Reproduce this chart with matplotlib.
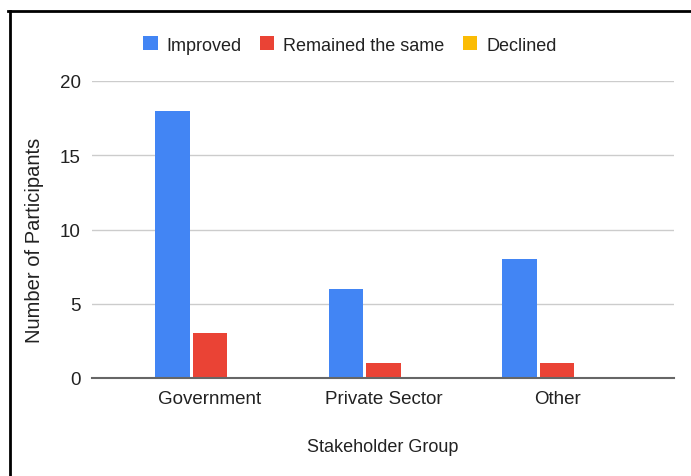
import matplotlib
matplotlib.use("Agg")
import matplotlib.pyplot as plt
from matplotlib.lines import Line2D
from matplotlib.patches import Patch
import numpy as np

categories = ["Government", "Private Sector", "Other"]
series_names = ["Improved", "Remained the same", "Declined"]
improved = [18, 6, 8]
remained = [3, 1, 1]
declined = [0, 0, 0]
y_ticks = [0, 5, 10, 15, 20]
colors = ["#4285F4", "#EA4335", "#FBBC04"]

plt.rcParams['font.family'] = ['Liberation Sans', 'DejaVu Sans']

fig = plt.figure(figsize=(6.91, 4.77), dpi=100)
W, H = 691, 477
ax = fig.add_axes([92 / W, (H - 379) / H, 582 / W, (379 - 82) / H])

x = np.arange(len(categories))
slot = 0.216
width = 0.2
for i, (vals, name, c) in enumerate(zip([improved, remained, declined], series_names, colors)):
    ax.bar(x + (i - 1) * slot, vals, width=width, color=c, label=name, zorder=3)

ax.set_xlim(-0.68, 2.674)
ax.set_ylim(0, 20)
ax.set_yticks(y_ticks)
ax.set_yticklabels([str(t) for t in y_ticks])
ax.set_xticks(x)
ax.set_xticklabels(categories)
ax.tick_params(axis='both', length=0, labelsize=13.5, colors='#222222')
ax.tick_params(axis='y', pad=8)
ax.tick_params(axis='x', pad=9)
ax.grid(axis='y', color='#cccccc', linewidth=1.0, zorder=0)
for s in ['top', 'right', 'left']:
    ax.spines[s].set_visible(False)
ax.spines['bottom'].set_color('#666666')
ax.spines['bottom'].set_linewidth(1.5)
ax.spines['bottom'].set_zorder(4)

ax.set_ylabel("Number of Participants", fontsize=14.5, color='#222222')
ax.yaxis.set_label_coords((44 - 92) / 582, (379 - 240.5) / 297)
ax.set_xlabel("Stakeholder Group", fontsize=13, color='#222222', labelpad=22)

handles = [Patch(facecolor=c, edgecolor='none') for c in colors]
fig.legend(handles, series_names, loc='center', bbox_to_anchor=(350 / W, 1 - 46 / H),
           ncol=3, frameon=False, fontsize=13, handlelength=0.8, handleheight=0.8,
           handletextpad=0.5, columnspacing=1.0, labelcolor='#222222')

# partial black frame (top and left)
fig.add_artist(Line2D([8 / W, 1.0], [1 - 12 / H, 1 - 12 / H], color='black', linewidth=2, transform=fig.transFigure))
fig.add_artist(Line2D([9.5 / W, 9.5 / W], [0, 1 - 12 / H], color='black', linewidth=2, transform=fig.transFigure))

fig.savefig("out.png", dpi=100, facecolor='white')
